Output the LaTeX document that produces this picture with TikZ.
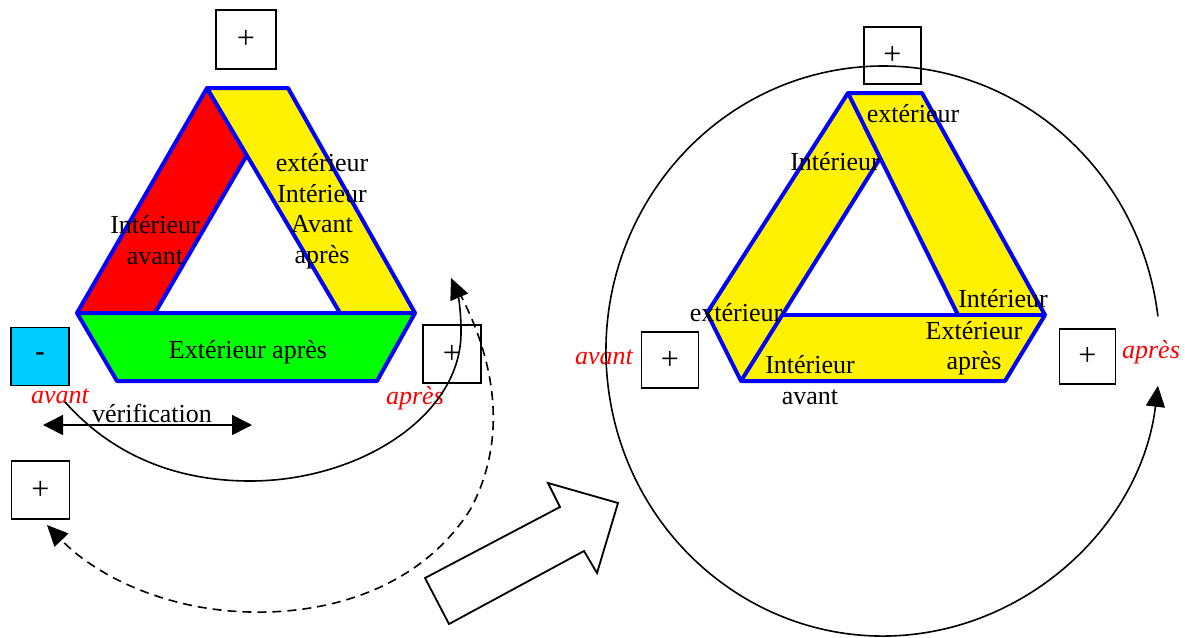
\documentclass[tikz,border=0pt]{standalone}
\usepackage{fontspec}
\setmainfont{Liberation Serif}
\usetikzlibrary{arrows.meta}
\begin{document}
\begin{tikzpicture}[x=1pt,y=-1pt,
  every node/.style={font=\fontsize{26}{30.5}\selectfont, inner sep=0pt, align=center},
  band/.style={draw=blue, line width=4pt, line join=round},
  pbox/.style={draw=black, line width=1.8pt, minimum width=58pt, minimum height=58pt,
    font=\fontsize{32}{32}\selectfont},
  redlbl/.style={text=red, font=\fontsize{26}{30}\selectfont\itshape},
  link/.style={line width=1.6pt},
  head/.style={-{Triangle[length=21pt,width=19pt]}},
  dhead/.style={{Triangle[length=20pt,width=20pt]}-{Triangle[length=20pt,width=20pt]}}
]
\useasboundingbox (0,0) rectangle (1185,637);

% ---------- left: coloured triangle ----------
\filldraw[band, fill=red]    (207,88) -- (247,155) -- (155,313) -- (77,313) -- cycle;
\filldraw[band, fill=yellow] (207,88) -- (288,88) -- (415,313) -- (340,313) -- cycle;
\filldraw[band, fill=green]  (77,313) -- (415,313) -- (377,381) -- (117,381) -- cycle;

\node (ia)  at (155,240) {Intérieur\\avant};
\node (eiaa) at (322,211) {extérieur\\Intérieur\\Avant\\après};
\node (ea)  at (248,352) {Extérieur après};

% boxes round the left triangle
\node[pbox, minimum width=60pt, minimum height=59pt] (btop) at (246,39.5) {+};
\node[pbox, fill={rgb,255:red,0;green,204;blue,255}, font=\fontsize{28}{28}\selectfont\bfseries]
  (bminus) at (40,356.5) {\raisebox{-3pt}{-}};
\node[pbox] (bright) at (452,354) {+};
\node[pbox] (blow) at (40.5,490) {+};

\node[redlbl] (avl) at (60,396) {avant};
\node[redlbl] (apl) at (415,398) {après};

% verification span
\coordinate (vl) at (43,425);
\coordinate (vr) at (252,425);
\draw[link, dhead] (vl) -- (vr);
\node (verif) at (152,413) {vérification};

% loop from "avant" to "après"
\coordinate (s1) at (65,402);
\coordinate (s2) at (250,481);
\coordinate (s3) at (461,330);
\coordinate (s4) at (451,278);
\draw[link, head] (s1) .. controls (115,458) and (180,481) .. (s2)
  .. controls (360,481) and (463,415) .. (s3)
  .. controls (461,306) and (457,292) .. (s4);

% dashed return loop
\coordinate (d1) at (459,292);
\coordinate (d2) at (470,510);
\coordinate (d3) at (250,612);
\coordinate (d4) at (47,525);
\draw[link, dash pattern=on 9pt off 6pt, head] (d1) .. controls (496,362) and (508,440) .. (d2)
  .. controls (420,588) and (330,614) .. (d3)
  .. controls (160,610) and (92,572) .. (d4);

% hollow block arrow
\draw[line width=1.8pt, line join=miter]
  (425,578) -- (560,507) -- (548,483) -- (618,503) -- (597,573) -- (584,551) -- (449,624) -- cycle;

% ---------- right: yellow triangle in a loop ----------
\fill[yellow] (848,93) -- (922,93) -- (1045,315) -- (1005,381) -- (741,381) -- (707,313) -- cycle;
\fill[white] (880.2,158) -- (782.2,315) -- (958,315) -- cycle;
\draw[band] (848,93) -- (922,93) -- (1045,315) -- (1005,381) -- (741,381) -- (707,313) -- cycle;
\draw[band] (848,93) -- (958,315);
\draw[band] (880.2,158) -- (741,381);
\draw[band] (782.2,315) -- (1045,315);

\node (r1) at (913,114) {extérieur};
\node (r2) at (835,162) {Intérieur};
\node (r3) at (1003,299) {Intérieur};
\node (r4) at (736,313) {extérieur};
\node (r5) at (974,348) {Extérieur\\après};
\node (r6) at (810,380) {Intérieur\\avant};

\node[pbox, minimum width=57pt, minimum height=57pt] (rtop) at (892.5,55.5) {+};
\node[pbox, minimum width=57pt, minimum height=56pt] (rleft) at (670,360) {+};
\node[pbox, minimum width=56pt, minimum height=55pt] (rright) at (1087.5,356.5) {+};

\node[redlbl] (ravl) at (604,357) {avant};
\node[redlbl] (rapl) at (1151,352) {après};

% surrounding loop
\coordinate (cs) at (1157.9,316.3);
\draw[link, head] (cs) arc[start angle=7, end angle=353, x radius=277pt, y radius=285pt];

\end{tikzpicture}
\end{document}
